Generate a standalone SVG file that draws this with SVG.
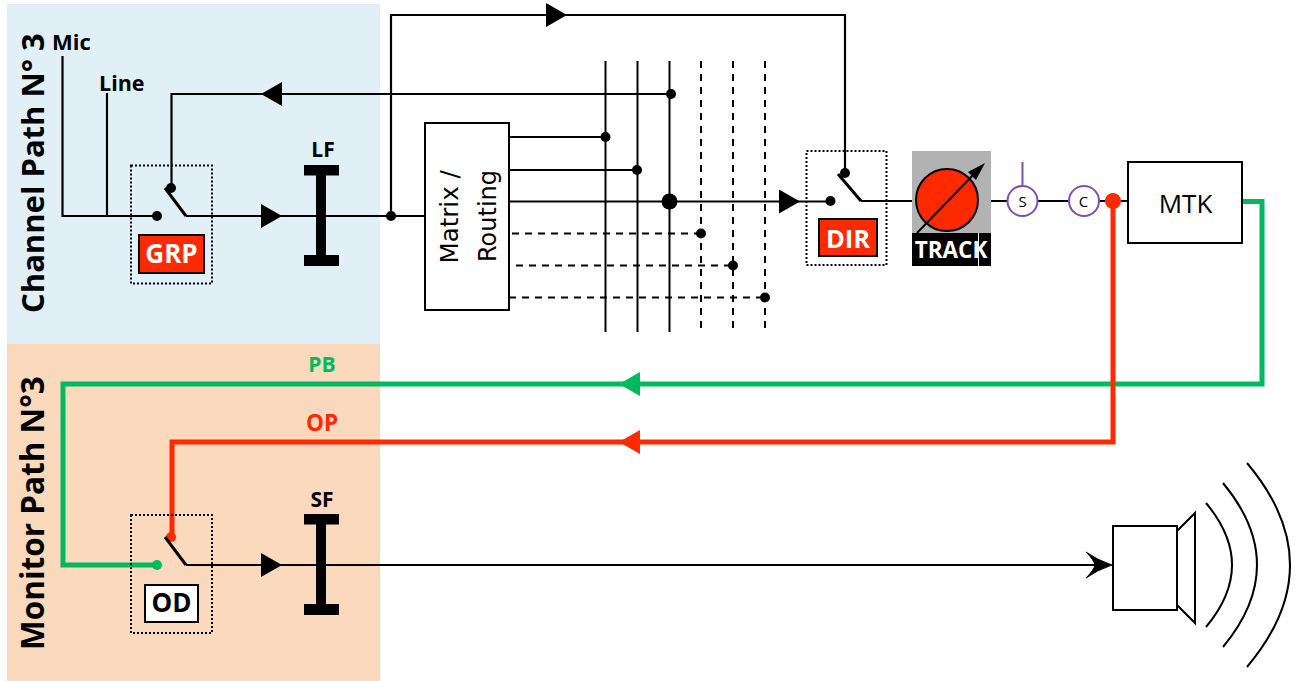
<svg xmlns="http://www.w3.org/2000/svg" xmlns:xlink="http://www.w3.org/1999/xlink" width="1297" height="681" viewBox="0 0 1297 681">
<style>
text{font-family:"Open Sans","Liberation Sans",sans-serif}
.b{font-weight:700}
.w{fill:none;stroke:#000;stroke-width:2.2}
.th{fill:none;stroke:#000;stroke-width:2}
.d{fill:none;stroke:#000;stroke-width:2;stroke-dasharray:7 6}
.dot{fill:none;stroke:#000;stroke-width:2;stroke-dasharray:2 2}
.arm{fill:none;stroke:#000;stroke-width:3}
.g{fill:none;stroke:#00B95F;stroke-width:5}
.r{fill:none;stroke:#FF2A00;stroke-width:5}
.p{fill:#fff;stroke:#7F4FB0;stroke-width:2}
.box{fill:#fff;stroke:#000;stroke-width:2}
.lab{font-size:21px;font-weight:700;text-anchor:middle}
</style>
<defs>
<polygon id="ar" points="-21,-12 0,0 -21,12"/>
<g id="ibar"><rect x="304" y="0" width="35" height="10.500"/><rect x="304" y="90" width="35" height="11"/><rect x="316" y="0" width="10" height="100"/></g>
</defs>
<rect x="7" y="4" width="373" height="340" fill="#E1F0F6"/>
<rect x="7" y="344" width="373" height="337" fill="#FBD9BD"/>
<text class="b" transform="translate(44,313) rotate(-90)" font-size="31">Channel Path N° 3</text>
<text class="b" transform="translate(44,650) rotate(-90)" font-size="31.500">Monitor Path N°3</text>
<g id="connectors">
<path class="w" d="M62.500 56V216H157M107 93V216"/>
<path class="w" d="M186 216H425"/>
<path class="w" d="M171.500 188V94H671"/>
<path class="w" d="M391 216V15H845V173"/>
<path class="w" d="M509 137H605M509 170H637M509 201.500H830"/>
<path class="th" d="M605.500 61V332M637.500 61V332M669.500 61V332"/>
<path class="d" d="M701 61V332M733 61V332M765 61V332"/>
<path class="d" d="M512 233.500H701M516 265.500H733M509 297.500H765"/>
<path class="w" d="M861 201H1128"/>
<path class="g" d="M1242 201.500H1262V384H63V565H157"/>
<path class="r" d="M1113 201V442H172V537"/>
<path class="th" d="M186 565H1100"/>
<path d="M1112 565Q1097 560 1086 552Q1094 560 1095 565Q1094 570 1086 578Q1097 570 1112 565Z" fill="#000" stroke="#000"/>
<use xlink:href="#ar" href="#ar" x="282" y="216"/>
<use xlink:href="#ar" href="#ar" transform="translate(261,94) scale(-1,1)"/>
<use xlink:href="#ar" href="#ar" x="567" y="15"/>
<use xlink:href="#ar" href="#ar" x="800" y="201.500"/>
<use xlink:href="#ar" href="#ar" x="282" y="565"/>
<use xlink:href="#ar" href="#ar" transform="translate(619,384) scale(-1,1)" fill="#00B95F"/>
<use xlink:href="#ar" href="#ar" transform="translate(619,442) scale(-1,1)" fill="#FF2A00"/>
<circle cx="391" cy="216" r="5"/><circle cx="671" cy="94" r="5"/>
<circle cx="605.500" cy="137" r="5"/><circle cx="637" cy="170" r="5"/>
<circle cx="669.500" cy="201.500" r="8"/>
<circle cx="701" cy="233.500" r="5"/><circle cx="733" cy="265.500" r="5"/><circle cx="765" cy="297.500" r="5"/>
<circle cx="1113" cy="201" r="8" fill="#FF2A00"/>
</g>
<g id="label-mic"><text class="b" x="52" y="50" font-size="22">Mic</text></g>
<g id="label-line"><text class="b" x="99" y="91" font-size="21.500">Line</text></g>
<g id="switch-grp">
<rect class="dot" x="131" y="165.500" width="81" height="118"/>
<circle cx="157" cy="216" r="5"/><circle cx="171" cy="188" r="5"/>
<path class="arm" d="M165 188L186 216"/>
<rect x="139" y="235" width="65" height="38" fill="#FF2A00" stroke="#000" stroke-width="2"/>
<text class="b" x="171.500" y="263" font-size="26" text-anchor="middle" fill="#fff">GRP</text>
</g>
<g id="filter-lf"><use xlink:href="#ibar" href="#ibar" y="165"/><text class="lab" x="323" y="157">LF</text></g>
<g id="matrix">
<rect class="box" x="425" y="123" width="84" height="187"/>
<text transform="translate(458,263.500) rotate(-90)" font-size="24.500" style="font-family:'DejaVu Sans',sans-serif">Matrix /</text>
<text transform="translate(495.500,262) rotate(-90)" font-size="24" style="font-family:'DejaVu Sans',sans-serif">Routing</text>
</g>
<g id="switch-dir">
<rect class="dot" x="806.500" y="151" width="80" height="114"/>
<circle cx="830.500" cy="201" r="5"/><circle cx="845" cy="173" r="5"/>
<path class="arm" d="M838 174L861 201"/>
<rect x="819" y="219" width="58" height="37" fill="#FF2A00" stroke="#000" stroke-width="2"/>
<text class="b" x="848" y="248" font-size="25.500" text-anchor="middle" fill="#fff">DIR</text>
</g>
<g id="track">
<rect x="912" y="151" width="79" height="82" fill="#B2B2B2"/>
<rect x="912" y="233" width="79" height="33"/>
<path d="M978.500 233V266" stroke="#fff" stroke-width="1"/>
<circle cx="947" cy="200" r="31" fill="#FF2A00" stroke="#000" stroke-width="2"/>
<path class="th" d="M917 233L976 172"/>
<polygon points="985,163 968,172 976,180"/>
<text class="b" x="951" y="258" font-size="22.500" text-anchor="middle" fill="#fff">TRACK</text>
</g>
<g id="s-node">
<path d="M1022.500 162V186" fill="none" stroke="#7F4FB0" stroke-width="2"/>
<circle class="p" cx="1022.500" cy="201" r="15"/>
<text x="1022.500" y="207" font-size="15" text-anchor="middle">S</text>
</g>
<g id="c-node">
<circle class="p" cx="1084" cy="201" r="15"/>
<text x="1083.500" y="207" font-size="15" text-anchor="middle">C</text>
</g>
<g id="mtk">
<rect class="box" x="1128" y="162" width="114" height="81"/>
<text x="1185.500" y="213" font-size="26" text-anchor="middle">MTK</text>
</g>
<g id="label-pb"><text class="lab" x="322" y="372" fill="#00B95F">PB</text></g>
<g id="label-op"><text class="lab" x="322" y="431" fill="#FF2A00" style="font-size:22.500px">OP</text></g>
<g id="switch-od">
<rect class="dot" x="131" y="515" width="81" height="118"/>
<circle cx="157" cy="565" r="5" fill="#00B95F"/><circle cx="171" cy="537" r="5" fill="#FF2A00"/>
<path class="arm" d="M165 537L186 565"/>
<rect x="145" y="585" width="53" height="37" fill="#fff" stroke="#000" stroke-width="2"/>
<text class="b" x="171.500" y="612" font-size="26" text-anchor="middle">OD</text>
</g>
<g id="filter-sf"><use xlink:href="#ibar" href="#ibar" y="514"/><text class="lab" x="322" y="507">SF</text></g>
<g id="speaker">
<rect class="box" x="1113" y="526" width="64" height="84"/>
<polygon points="1177,531 1195,513 1195,623 1177,605" fill="#fff" stroke="#000" stroke-width="2"/>
<path class="th" d="M1206 503Q1258 565 1206 627M1223 483Q1291 565 1223 647M1247 463Q1333 565 1247 667"/>
</g>
</svg>
